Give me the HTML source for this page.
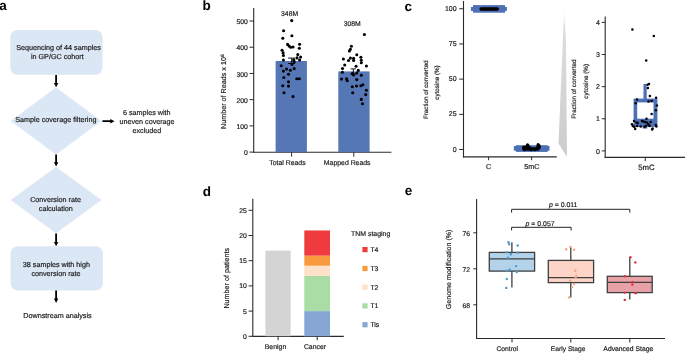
<!DOCTYPE html>
<html><head><meta charset="utf-8"><style>
html,body{margin:0;padding:0;background:#fff;width:685px;height:353px;overflow:hidden}
svg{display:block;will-change:transform}
text{font-family:"Liberation Sans", sans-serif;text-rendering:geometricPrecision}
</style></head><body>
<svg width="685" height="353" viewBox="0 0 685 353" font-family='"Liberation Sans", sans-serif'>
<rect width="685" height="353" fill="#fff"/>
<text x="-0.7" y="10.1" font-size="13.5" text-anchor="start" fill="#000" font-weight="bold" >a</text>
<text x="202.4" y="10.3" font-size="13.5" text-anchor="start" fill="#000" font-weight="bold" >b</text>
<text x="404.6" y="10.5" font-size="13.5" text-anchor="start" fill="#000" font-weight="bold" >c</text>
<text x="202.8" y="195.5" font-size="13.5" text-anchor="start" fill="#000" font-weight="bold" >d</text>
<text x="404.7" y="195.4" font-size="13.5" text-anchor="start" fill="#000" font-weight="bold" >e</text>
<rect x="10.3" y="30" width="92.2" height="44.8" rx="7" fill="#dbe7f5"/>
<text x="58.5" y="50.2" font-size="7.2" text-anchor="middle" fill="#1a1a1a" stroke="#1a1a1a" stroke-width="0.18" >Sequencing of 44 samples</text>
<text x="57.3" y="59.4" font-size="7.2" text-anchor="middle" fill="#1a1a1a" stroke="#1a1a1a" stroke-width="0.18" >in GP/GC cohort</text>
<path d="M55.2,75 L57.0,75 L57.0,83.0 L58.300000000000004,83.0 L56.1,87.3 L53.9,83.0 L55.2,83.0 Z" fill="#000"/>
<polygon points="56,87.6 101.4,121 56,154.4 10.7,121" fill="#dbe7f5"/>
<text x="55.85" y="122.4" font-size="7.2" text-anchor="middle" fill="#1a1a1a" stroke="#1a1a1a" stroke-width="0.18" >Sample coverage filtering</text>
<path d="M102.4,120.3 L110.3,120.3 L110.3,119.0 L114.6,121.2 L110.3,123.4 L110.3,122.10000000000001 L102.4,122.10000000000001 Z" fill="#000"/>
<text x="146.8" y="114.8" font-size="7.2" text-anchor="middle" fill="#1a1a1a" stroke="#1a1a1a" stroke-width="0.18" >6 samples with</text>
<text x="147.05" y="123.9" font-size="7.2" text-anchor="middle" fill="#1a1a1a" stroke="#1a1a1a" stroke-width="0.18" >uneven coverage</text>
<text x="146.9" y="132.6" font-size="7.2" text-anchor="middle" fill="#1a1a1a" stroke="#1a1a1a" stroke-width="0.18" >excluded</text>
<path d="M55.2,154.6 L57.0,154.6 L57.0,162.29999999999998 L58.300000000000004,162.29999999999998 L56.1,166.6 L53.9,162.29999999999998 L55.2,162.29999999999998 Z" fill="#000"/>
<polygon points="56,167 101.4,200 56,233.2 10.7,200" fill="#dbe7f5"/>
<text x="55.55" y="202.3" font-size="7.2" text-anchor="middle" fill="#1a1a1a" stroke="#1a1a1a" stroke-width="0.18" >Conversion rate</text>
<text x="55.8" y="210.8" font-size="7.2" text-anchor="middle" fill="#1a1a1a" stroke="#1a1a1a" stroke-width="0.18" >calculation</text>
<path d="M55.2,233.6 L57.0,233.6 L57.0,241.89999999999998 L58.300000000000004,241.89999999999998 L56.1,246.2 L53.9,241.89999999999998 L55.2,241.89999999999998 Z" fill="#000"/>
<rect x="10.6" y="246.2" width="92.2" height="44.2" rx="7" fill="#dbe7f5"/>
<text x="56.4" y="266.8" font-size="7.2" text-anchor="middle" fill="#1a1a1a" stroke="#1a1a1a" stroke-width="0.18" >38 samples with high</text>
<text x="55.95" y="275.8" font-size="7.2" text-anchor="middle" fill="#1a1a1a" stroke="#1a1a1a" stroke-width="0.18" >conversion rate</text>
<path d="M55.2,290.6 L57.0,290.6 L57.0,298.59999999999997 L58.300000000000004,298.59999999999997 L56.1,302.9 L53.9,298.59999999999997 L55.2,298.59999999999997 Z" fill="#000"/>
<text x="57.5" y="317.7" font-size="7.2" text-anchor="middle" fill="#1a1a1a" stroke="#1a1a1a" stroke-width="0.18" >Downstream analysis</text>
<line x1="253.7" y1="7.9" x2="253.7" y2="152.8" stroke="#2a2a2a" stroke-width="1.1"/>
<line x1="253.14999999999998" y1="152.2" x2="391.4" y2="152.2" stroke="#2a2a2a" stroke-width="1.1"/>
<line x1="249.5" y1="152.1" x2="253.7" y2="152.1" stroke="#2a2a2a" stroke-width="1.0"/>
<text x="247.9" y="155.2" font-size="6.8" text-anchor="end" fill="#1a1a1a" stroke="#1a1a1a" stroke-width="0.18" >0</text>
<line x1="249.5" y1="125.88" x2="253.7" y2="125.88" stroke="#2a2a2a" stroke-width="1.0"/>
<text x="247.9" y="128.98" font-size="6.8" text-anchor="end" fill="#1a1a1a" stroke="#1a1a1a" stroke-width="0.18" >100</text>
<line x1="249.5" y1="99.66" x2="253.7" y2="99.66" stroke="#2a2a2a" stroke-width="1.0"/>
<text x="247.9" y="102.75999999999999" font-size="6.8" text-anchor="end" fill="#1a1a1a" stroke="#1a1a1a" stroke-width="0.18" >200</text>
<line x1="249.5" y1="73.44" x2="253.7" y2="73.44" stroke="#2a2a2a" stroke-width="1.0"/>
<text x="247.9" y="76.53999999999999" font-size="6.8" text-anchor="end" fill="#1a1a1a" stroke="#1a1a1a" stroke-width="0.18" >300</text>
<line x1="249.5" y1="47.22" x2="253.7" y2="47.22" stroke="#2a2a2a" stroke-width="1.0"/>
<text x="247.9" y="50.32" font-size="6.8" text-anchor="end" fill="#1a1a1a" stroke="#1a1a1a" stroke-width="0.18" >400</text>
<line x1="249.5" y1="21.0" x2="253.7" y2="21.0" stroke="#2a2a2a" stroke-width="1.0"/>
<text x="247.9" y="24.1" font-size="6.8" text-anchor="end" fill="#1a1a1a" stroke="#1a1a1a" stroke-width="0.18" >500</text>
<rect x="275.6" y="61" width="31.3" height="91.2" fill="#5577b6" />
<rect x="338.3" y="71.4" width="31.3" height="80.8" fill="#5577b6" />
<line x1="291.6" y1="152.2" x2="291.6" y2="156.6" stroke="#2a2a2a" stroke-width="1.0"/>
<line x1="353.8" y1="152.2" x2="353.8" y2="156.6" stroke="#2a2a2a" stroke-width="1.0"/>
<text x="287.4" y="165.2" font-size="6.9" text-anchor="middle" fill="#1a1a1a" stroke="#1a1a1a" stroke-width="0.18" >Total Reads</text>
<text x="347.2" y="165.2" font-size="6.9" text-anchor="middle" fill="#1a1a1a" stroke="#1a1a1a" stroke-width="0.18" >Mapped Reads</text>
<text x="289.6" y="15.8" font-size="6.8" text-anchor="middle" fill="#1a1a1a" stroke="#1a1a1a" stroke-width="0.18" >348M</text>
<text x="352.2" y="26.3" font-size="6.8" text-anchor="middle" fill="#1a1a1a" stroke="#1a1a1a" stroke-width="0.18" >308M</text>
<line x1="291.6" y1="58.1" x2="291.6" y2="63.5" stroke="#000" stroke-width="0.9"/>
<line x1="288.0" y1="58.1" x2="295.20000000000005" y2="58.1" stroke="#000" stroke-width="0.9"/>
<line x1="288.0" y1="63.5" x2="295.20000000000005" y2="63.5" stroke="#000" stroke-width="0.9"/>
<line x1="353.3" y1="68.9" x2="353.3" y2="74.2" stroke="#000" stroke-width="0.9"/>
<line x1="350.7" y1="68.9" x2="355.90000000000003" y2="68.9" stroke="#000" stroke-width="0.9"/>
<line x1="350.7" y1="74.2" x2="355.90000000000003" y2="74.2" stroke="#000" stroke-width="0.9"/>
<circle cx="291.7" cy="20.6" r="1.55" fill="#000"/>
<circle cx="283.6" cy="30.7" r="1.55" fill="#000"/>
<circle cx="291.9" cy="35.8" r="1.55" fill="#000"/>
<circle cx="282.8" cy="38.3" r="1.55" fill="#000"/>
<circle cx="299.6" cy="44.2" r="1.55" fill="#000"/>
<circle cx="287.6" cy="44.4" r="1.55" fill="#000"/>
<circle cx="289.1" cy="46.1" r="1.55" fill="#000"/>
<circle cx="290.7" cy="47.2" r="1.55" fill="#000"/>
<circle cx="293" cy="47" r="1.55" fill="#000"/>
<circle cx="299.3" cy="48.3" r="1.55" fill="#000"/>
<circle cx="282.1" cy="50.2" r="1.55" fill="#000"/>
<circle cx="283.1" cy="52.9" r="1.55" fill="#000"/>
<circle cx="283.4" cy="55.5" r="1.55" fill="#000"/>
<circle cx="283.4" cy="60" r="1.55" fill="#000"/>
<circle cx="297.8" cy="54.6" r="1.55" fill="#000"/>
<circle cx="300.6" cy="57.1" r="1.55" fill="#000"/>
<circle cx="299.6" cy="60" r="1.55" fill="#000"/>
<circle cx="297" cy="57.9" r="1.55" fill="#000"/>
<circle cx="293.7" cy="59.9" r="1.55" fill="#000"/>
<circle cx="294.2" cy="61.6" r="1.55" fill="#000"/>
<circle cx="292" cy="64.4" r="1.55" fill="#000"/>
<circle cx="281.2" cy="65.7" r="1.55" fill="#000"/>
<circle cx="286.6" cy="69" r="1.55" fill="#000"/>
<circle cx="294.2" cy="68.6" r="1.55" fill="#000"/>
<circle cx="283.4" cy="71.1" r="1.55" fill="#000"/>
<circle cx="290.4" cy="70.3" r="1.55" fill="#000"/>
<circle cx="288.5" cy="74.3" r="1.55" fill="#000"/>
<circle cx="283.8" cy="77.5" r="1.55" fill="#000"/>
<circle cx="296.8" cy="78.8" r="1.55" fill="#000"/>
<circle cx="299.3" cy="78.8" r="1.55" fill="#000"/>
<circle cx="288.5" cy="81.7" r="1.55" fill="#000"/>
<circle cx="282.8" cy="85.8" r="1.55" fill="#000"/>
<circle cx="288.5" cy="86.1" r="1.55" fill="#000"/>
<circle cx="284" cy="92.8" r="1.55" fill="#000"/>
<circle cx="293" cy="96.6" r="1.55" fill="#000"/>
<circle cx="364.4" cy="34.5" r="1.55" fill="#000"/>
<circle cx="351.4" cy="46.3" r="1.55" fill="#000"/>
<circle cx="350.4" cy="49.2" r="1.55" fill="#000"/>
<circle cx="349.4" cy="51" r="1.55" fill="#000"/>
<circle cx="356.8" cy="54.8" r="1.55" fill="#000"/>
<circle cx="360.9" cy="57.3" r="1.55" fill="#000"/>
<circle cx="343.4" cy="59" r="1.55" fill="#000"/>
<circle cx="350.4" cy="58.1" r="1.55" fill="#000"/>
<circle cx="353.6" cy="58.4" r="1.55" fill="#000"/>
<circle cx="348.5" cy="60.5" r="1.55" fill="#000"/>
<circle cx="353.6" cy="60.5" r="1.55" fill="#000"/>
<circle cx="361.3" cy="60.2" r="1.55" fill="#000"/>
<circle cx="361.3" cy="62.8" r="1.55" fill="#000"/>
<circle cx="366.4" cy="66" r="1.55" fill="#000"/>
<circle cx="344.7" cy="65" r="1.55" fill="#000"/>
<circle cx="356.1" cy="66.3" r="1.55" fill="#000"/>
<circle cx="342.5" cy="68.5" r="1.55" fill="#000"/>
<circle cx="358.3" cy="70.4" r="1.55" fill="#000"/>
<circle cx="342.4" cy="72.3" r="1.55" fill="#000"/>
<circle cx="352.3" cy="73.6" r="1.55" fill="#000"/>
<circle cx="353.6" cy="74.9" r="1.55" fill="#000"/>
<circle cx="356.8" cy="73" r="1.55" fill="#000"/>
<circle cx="361.3" cy="75.3" r="1.55" fill="#000"/>
<circle cx="341.5" cy="79.1" r="1.55" fill="#000"/>
<circle cx="346.6" cy="78.7" r="1.55" fill="#000"/>
<circle cx="347.2" cy="80.6" r="1.55" fill="#000"/>
<circle cx="356.8" cy="79.6" r="1.55" fill="#000"/>
<circle cx="352.3" cy="86.7" r="1.55" fill="#000"/>
<circle cx="356.5" cy="86" r="1.55" fill="#000"/>
<circle cx="360.9" cy="85.7" r="1.55" fill="#000"/>
<circle cx="362.9" cy="84.7" r="1.55" fill="#000"/>
<circle cx="366.4" cy="90.2" r="1.55" fill="#000"/>
<circle cx="352.7" cy="92.7" r="1.55" fill="#000"/>
<circle cx="365.7" cy="94.6" r="1.55" fill="#000"/>
<circle cx="361.3" cy="99.4" r="1.55" fill="#000"/>
<circle cx="362.5" cy="103.8" r="1.55" fill="#000"/>
<line x1="463.5" y1="1" x2="463.5" y2="157.5" stroke="#2a2a2a" stroke-width="1.1"/>
<line x1="462.95" y1="156.9" x2="556.8" y2="156.9" stroke="#2a2a2a" stroke-width="1.1"/>
<line x1="459.2" y1="149.5" x2="463.5" y2="149.5" stroke="#2a2a2a" stroke-width="1.0"/>
<text x="456.6" y="151.5" font-size="7.0" text-anchor="end" fill="#1a1a1a" stroke="#1a1a1a" stroke-width="0.18" >0</text>
<line x1="459.2" y1="114.3125" x2="463.5" y2="114.3125" stroke="#2a2a2a" stroke-width="1.0"/>
<text x="456.6" y="116.3125" font-size="7.0" text-anchor="end" fill="#1a1a1a" stroke="#1a1a1a" stroke-width="0.18" >25</text>
<line x1="459.2" y1="79.125" x2="463.5" y2="79.125" stroke="#2a2a2a" stroke-width="1.0"/>
<text x="456.6" y="81.125" font-size="7.0" text-anchor="end" fill="#1a1a1a" stroke="#1a1a1a" stroke-width="0.18" >50</text>
<line x1="459.2" y1="43.9375" x2="463.5" y2="43.9375" stroke="#2a2a2a" stroke-width="1.0"/>
<text x="456.6" y="45.9375" font-size="7.0" text-anchor="end" fill="#1a1a1a" stroke="#1a1a1a" stroke-width="0.18" >75</text>
<line x1="459.2" y1="8.75" x2="463.5" y2="8.75" stroke="#2a2a2a" stroke-width="1.0"/>
<text x="456.6" y="10.75" font-size="7.0" text-anchor="end" fill="#1a1a1a" stroke="#1a1a1a" stroke-width="0.18" >100</text>
<line x1="488.6" y1="156.9" x2="488.6" y2="160.2" stroke="#2a2a2a" stroke-width="1.0"/>
<line x1="531.6" y1="156.9" x2="531.6" y2="160.2" stroke="#2a2a2a" stroke-width="1.0"/>
<text x="488.6" y="169.1" font-size="7.2" text-anchor="middle" fill="#1a1a1a" stroke="#1a1a1a" stroke-width="0.18" >C</text>
<text x="531.9" y="169.1" font-size="7.2" text-anchor="middle" fill="#1a1a1a" stroke="#1a1a1a" stroke-width="0.18" >5mC</text>
<rect x="473" y="5.1" width="32.1" height="7.6" fill="#4d6fb6" />
<rect x="470.9" y="7" width="36" height="3.9" fill="#4d6fb6" />
<rect x="479.4" y="7.2" width="19.6" height="3.5" rx="1.75" fill="#000"/>
<rect x="516" y="145.2" width="31.7" height="6.7" fill="#4d6fb6" />
<rect x="513.8" y="146" width="35.7" height="4.7" fill="#4d6fb6" />
<circle cx="523.8" cy="148.9" r="1.6" fill="#000"/>
<circle cx="525.0" cy="148.9" r="1.6" fill="#000"/>
<circle cx="526.2" cy="148.9" r="1.6" fill="#000"/>
<circle cx="527.4" cy="148.9" r="1.6" fill="#000"/>
<circle cx="528.6" cy="148.9" r="1.6" fill="#000"/>
<circle cx="529.8" cy="148.9" r="1.6" fill="#000"/>
<circle cx="531.0" cy="148.9" r="1.6" fill="#000"/>
<circle cx="532.2" cy="148.9" r="1.6" fill="#000"/>
<circle cx="533.4" cy="148.9" r="1.6" fill="#000"/>
<circle cx="534.6" cy="148.9" r="1.6" fill="#000"/>
<circle cx="535.8" cy="148.9" r="1.6" fill="#000"/>
<circle cx="537.0" cy="148.9" r="1.6" fill="#000"/>
<circle cx="538.2" cy="148.9" r="1.6" fill="#000"/>
<circle cx="523.6" cy="147.4" r="1.6" fill="#000"/>
<circle cx="525" cy="147.1" r="1.6" fill="#000"/>
<circle cx="526.5" cy="146.9" r="1.6" fill="#000"/>
<circle cx="528" cy="147" r="1.6" fill="#000"/>
<circle cx="529.5" cy="147.6" r="1.6" fill="#000"/>
<circle cx="527.5" cy="144.8" r="1.6" fill="#000"/>
<circle cx="527.9" cy="145.6" r="1.6" fill="#000"/>
<circle cx="538.1" cy="144.7" r="1.6" fill="#000"/>
<circle cx="539.2" cy="145.9" r="1.6" fill="#000"/>
<circle cx="539.3" cy="147.3" r="1.6" fill="#000"/>
<circle cx="537.8" cy="146.6" r="1.6" fill="#000"/>
<circle cx="524.5" cy="149.6" r="1.6" fill="#000"/>
<circle cx="531" cy="149.7" r="1.6" fill="#000"/>
<circle cx="535" cy="149.6" r="1.6" fill="#000"/>
<text x="427.8" y="89.75" font-size="6.25" text-anchor="middle" fill="#1a1a1a" stroke="#1a1a1a" stroke-width="0.18" transform="rotate(-90 427.8 89.75)" >Fraction of converted</text>
<text x="439.1" y="82.5" font-size="6.25" text-anchor="middle" fill="#1a1a1a" stroke="#1a1a1a" stroke-width="0.18" transform="rotate(-90 439.1 82.5)" >cytosine (%)</text>
<defs><linearGradient id="wg" gradientUnits="userSpaceOnUse" x1="0" y1="10.8" x2="0" y2="157"><stop offset="0" stop-color="#f4f4f4"/><stop offset="0.12" stop-color="#dddddd"/><stop offset="1" stop-color="#cdcdcd"/></linearGradient></defs>
<polygon points="564.1,10.8 566,40 566.5,100 567,157 558.5,143.4" fill="url(#wg)"/>
<line x1="605.2" y1="16.6" x2="605.2" y2="158.1" stroke="#2a2a2a" stroke-width="1.1"/>
<line x1="604.6500000000001" y1="157.4" x2="685" y2="157.4" stroke="#2a2a2a" stroke-width="1.2"/>
<line x1="601.8" y1="150.9" x2="605.2" y2="150.9" stroke="#2a2a2a" stroke-width="1.0"/>
<text x="600.0" y="153.5" font-size="7.0" text-anchor="end" fill="#1a1a1a" stroke="#1a1a1a" stroke-width="0.18" >0</text>
<line x1="601.8" y1="118.77000000000001" x2="605.2" y2="118.77000000000001" stroke="#2a2a2a" stroke-width="1.0"/>
<text x="600.0" y="121.37" font-size="7.0" text-anchor="end" fill="#1a1a1a" stroke="#1a1a1a" stroke-width="0.18" >1</text>
<line x1="601.8" y1="86.64" x2="605.2" y2="86.64" stroke="#2a2a2a" stroke-width="1.0"/>
<text x="600.0" y="89.24" font-size="7.0" text-anchor="end" fill="#1a1a1a" stroke="#1a1a1a" stroke-width="0.18" >2</text>
<line x1="601.8" y1="54.50999999999999" x2="605.2" y2="54.50999999999999" stroke="#2a2a2a" stroke-width="1.0"/>
<text x="600.0" y="57.10999999999999" font-size="7.0" text-anchor="end" fill="#1a1a1a" stroke="#1a1a1a" stroke-width="0.18" >3</text>
<line x1="601.8" y1="22.379999999999995" x2="605.2" y2="22.379999999999995" stroke="#2a2a2a" stroke-width="1.0"/>
<text x="600.0" y="24.979999999999997" font-size="7.0" text-anchor="end" fill="#1a1a1a" stroke="#1a1a1a" stroke-width="0.18" >4</text>
<line x1="645.3" y1="157.4" x2="645.3" y2="161" stroke="#2a2a2a" stroke-width="1.0"/>
<text x="646.5" y="169.5" font-size="7.8" text-anchor="middle" fill="#1a1a1a" stroke="#1a1a1a" stroke-width="0.18" >5mC</text>
<text x="575.9" y="89.15" font-size="6.3" text-anchor="middle" fill="#1a1a1a" stroke="#1a1a1a" stroke-width="0.18" transform="rotate(-90 575.9 89.15)" >Fraction of converted</text>
<text x="588.1" y="81.3" font-size="6.3" text-anchor="middle" fill="#1a1a1a" stroke="#1a1a1a" stroke-width="0.18" transform="rotate(-90 588.1 81.3)" >cytosine (%)</text>
<rect x="643.5" y="84" width="3.2" height="16" fill="#4d6fb6" />
<rect x="633.6" y="98.6" width="23.8" height="28.3" fill="#4d6fb6" />
<rect x="642.6" y="126" width="4.6" height="2.6" fill="#4d6fb6" />
<rect x="637.2" y="102.4" width="16.3" height="16.3" fill="#fff" />
<circle cx="632.4" cy="29.6" r="1.25" fill="#000"/>
<circle cx="653.8" cy="36" r="1.25" fill="#000"/>
<circle cx="646.2" cy="60.4" r="1.25" fill="#000"/>
<circle cx="647.6" cy="84.7" r="1.25" fill="#000"/>
<circle cx="649" cy="84" r="1.25" fill="#000"/>
<circle cx="647.9" cy="87.9" r="1.25" fill="#000"/>
<circle cx="649.9" cy="95.9" r="1.25" fill="#000"/>
<circle cx="656.1" cy="97.7" r="1.25" fill="#000"/>
<circle cx="637" cy="99.5" r="1.25" fill="#000"/>
<circle cx="651.6" cy="100.9" r="1.25" fill="#000"/>
<circle cx="648.5" cy="101.5" r="1.25" fill="#000"/>
<circle cx="635.7" cy="103.3" r="1.25" fill="#000"/>
<circle cx="656.9" cy="105.5" r="1.25" fill="#000"/>
<circle cx="655.9" cy="110.3" r="1.25" fill="#000"/>
<circle cx="651.6" cy="113.9" r="1.25" fill="#000"/>
<circle cx="646.5" cy="118.7" r="1.25" fill="#000"/>
<circle cx="634" cy="120.9" r="1.25" fill="#000"/>
<circle cx="642" cy="121.1" r="1.25" fill="#000"/>
<circle cx="643.4" cy="121.6" r="1.25" fill="#000"/>
<circle cx="645.1" cy="122.1" r="1.25" fill="#000"/>
<circle cx="646.8" cy="122.6" r="1.25" fill="#000"/>
<circle cx="650.6" cy="121.9" r="1.25" fill="#000"/>
<circle cx="636.5" cy="122.6" r="1.25" fill="#000"/>
<circle cx="637.6" cy="123" r="1.25" fill="#000"/>
<circle cx="632" cy="124.2" r="1.25" fill="#000"/>
<circle cx="632.8" cy="125.9" r="1.25" fill="#000"/>
<circle cx="634.3" cy="126.9" r="1.25" fill="#000"/>
<circle cx="635.2" cy="129" r="1.25" fill="#000"/>
<circle cx="637.2" cy="125.9" r="1.25" fill="#000"/>
<circle cx="640.7" cy="126.4" r="1.25" fill="#000"/>
<circle cx="644.6" cy="126.7" r="1.25" fill="#000"/>
<circle cx="645.8" cy="125.9" r="1.25" fill="#000"/>
<circle cx="648.7" cy="125" r="1.25" fill="#000"/>
<circle cx="649.7" cy="125.9" r="1.25" fill="#000"/>
<circle cx="655.9" cy="125" r="1.25" fill="#000"/>
<circle cx="656.4" cy="126.4" r="1.25" fill="#000"/>
<circle cx="652.6" cy="128.6" r="1.25" fill="#000"/>
<circle cx="652.1" cy="129.6" r="1.25" fill="#000"/>
<circle cx="648.2" cy="124" r="1.25" fill="#000"/>
<line x1="252.8" y1="198.8" x2="252.8" y2="336.8" stroke="#2a2a2a" stroke-width="1.1"/>
<line x1="252.25" y1="336.3" x2="343.8" y2="336.3" stroke="#2a2a2a" stroke-width="1.25"/>
<line x1="248.6" y1="336.3" x2="252.8" y2="336.3" stroke="#2a2a2a" stroke-width="1.0"/>
<text x="246.7" y="338.75" font-size="6.8" text-anchor="end" fill="#1a1a1a" stroke="#1a1a1a" stroke-width="0.18" >0</text>
<line x1="248.6" y1="311.1" x2="252.8" y2="311.1" stroke="#2a2a2a" stroke-width="1.0"/>
<text x="246.7" y="313.55" font-size="6.8" text-anchor="end" fill="#1a1a1a" stroke="#1a1a1a" stroke-width="0.18" >5</text>
<line x1="248.6" y1="285.90000000000003" x2="252.8" y2="285.90000000000003" stroke="#2a2a2a" stroke-width="1.0"/>
<text x="246.7" y="288.35" font-size="6.8" text-anchor="end" fill="#1a1a1a" stroke="#1a1a1a" stroke-width="0.18" >10</text>
<line x1="248.6" y1="260.70000000000005" x2="252.8" y2="260.70000000000005" stroke="#2a2a2a" stroke-width="1.0"/>
<text x="246.7" y="263.15000000000003" font-size="6.8" text-anchor="end" fill="#1a1a1a" stroke="#1a1a1a" stroke-width="0.18" >15</text>
<line x1="248.6" y1="235.5" x2="252.8" y2="235.5" stroke="#2a2a2a" stroke-width="1.0"/>
<text x="246.7" y="237.95" font-size="6.8" text-anchor="end" fill="#1a1a1a" stroke="#1a1a1a" stroke-width="0.18" >20</text>
<line x1="248.6" y1="210.3" x2="252.8" y2="210.3" stroke="#2a2a2a" stroke-width="1.0"/>
<text x="246.7" y="212.75" font-size="6.8" text-anchor="end" fill="#1a1a1a" stroke="#1a1a1a" stroke-width="0.18" >25</text>
<rect x="265.4" y="250.62" width="25.2" height="85.57999999999998" fill="#d4d4d4" />
<rect x="304.3" y="311.1" width="25.7" height="25.19999999999999" fill="#88a6d3" />
<rect x="304.3" y="275.82" width="25.7" height="35.28000000000003" fill="#aadca6" />
<rect x="304.3" y="265.74" width="25.7" height="10.079999999999984" fill="#fde1c9" />
<rect x="304.3" y="255.66000000000003" width="25.7" height="10.079999999999984" fill="#f89a3e" />
<rect x="304.3" y="230.46" width="25.7" height="25.200000000000017" fill="#ef3b3e" />
<line x1="278.1" y1="336.2" x2="278.1" y2="340.2" stroke="#2a2a2a" stroke-width="1.0"/>
<line x1="317.2" y1="336.2" x2="317.2" y2="340.2" stroke="#2a2a2a" stroke-width="1.0"/>
<text x="275.5" y="348.6" font-size="6.9" text-anchor="middle" fill="#1a1a1a" stroke="#1a1a1a" stroke-width="0.18" >Benign</text>
<text x="315" y="348.6" font-size="6.9" text-anchor="middle" fill="#1a1a1a" stroke="#1a1a1a" stroke-width="0.18" >Cancer</text>
<text x="229" y="278.2" font-size="7.2" text-anchor="middle" fill="#1a1a1a" stroke="#1a1a1a" stroke-width="0.18" transform="rotate(-90 229 278.2)" >Number of patients</text>
<text x="351" y="236" font-size="6.95" text-anchor="start" fill="#1a1a1a" stroke="#1a1a1a" stroke-width="0.18" >TNM staging</text>
<rect x="362.4" y="247.0" width="5.2" height="5.2" fill="#ef3b3e" />
<text x="370.4" y="252.1" font-size="6.9" text-anchor="start" fill="#1a1a1a" stroke="#1a1a1a" stroke-width="0.18" >T4</text>
<rect x="362.4" y="265.9" width="5.2" height="5.2" fill="#f89a3e" />
<text x="370.4" y="271.0" font-size="6.9" text-anchor="start" fill="#1a1a1a" stroke="#1a1a1a" stroke-width="0.18" >T3</text>
<rect x="362.4" y="284.59999999999997" width="5.2" height="5.2" fill="#fde1c9" />
<text x="370.4" y="289.7" font-size="6.9" text-anchor="start" fill="#1a1a1a" stroke="#1a1a1a" stroke-width="0.18" >T2</text>
<rect x="362.4" y="303.29999999999995" width="5.2" height="5.2" fill="#aadca6" />
<text x="370.4" y="308.4" font-size="6.9" text-anchor="start" fill="#1a1a1a" stroke="#1a1a1a" stroke-width="0.18" >T1</text>
<rect x="362.4" y="322.09999999999997" width="5.2" height="5.2" fill="#88a6d3" />
<text x="370.4" y="327.2" font-size="6.9" text-anchor="start" fill="#1a1a1a" stroke="#1a1a1a" stroke-width="0.18" >Tis</text>
<text x="225.6" y="91.7" font-size="7.2" text-anchor="middle" fill="#1a1a1a" stroke="#1a1a1a" stroke-width="0.18" transform="rotate(-90 225.6 91.7)" >Number of Reads x 10<tspan font-size="4.8" dy="-1.9">6</tspan></text>
<line x1="476.6" y1="199.1" x2="476.6" y2="339.1" stroke="#2a2a2a" stroke-width="1.1"/>
<line x1="476.05" y1="338.5" x2="665" y2="338.5" stroke="#2a2a2a" stroke-width="1.1"/>
<line x1="473.3" y1="304.8" x2="476.6" y2="304.8" stroke="#2a2a2a" stroke-width="1.0"/>
<text x="470.1" y="307.6" font-size="6.8" text-anchor="end" fill="#1a1a1a" stroke="#1a1a1a" stroke-width="0.18" >68</text>
<line x1="473.3" y1="268.8" x2="476.6" y2="268.8" stroke="#2a2a2a" stroke-width="1.0"/>
<text x="470.1" y="271.6" font-size="6.8" text-anchor="end" fill="#1a1a1a" stroke="#1a1a1a" stroke-width="0.18" >72</text>
<line x1="473.3" y1="232.8" x2="476.6" y2="232.8" stroke="#2a2a2a" stroke-width="1.0"/>
<text x="470.1" y="235.60000000000002" font-size="6.8" text-anchor="end" fill="#1a1a1a" stroke="#1a1a1a" stroke-width="0.18" >76</text>
<line x1="512" y1="338.5" x2="512" y2="342.5" stroke="#2a2a2a" stroke-width="1.0"/>
<line x1="570.8" y1="338.5" x2="570.8" y2="342.5" stroke="#2a2a2a" stroke-width="1.0"/>
<line x1="629.8" y1="338.5" x2="629.8" y2="342.5" stroke="#2a2a2a" stroke-width="1.0"/>
<text x="507.3" y="351.4" font-size="6.7" text-anchor="middle" fill="#1a1a1a" stroke="#1a1a1a" stroke-width="0.18" >Control</text>
<text x="568.1" y="351.4" font-size="6.7" text-anchor="middle" fill="#1a1a1a" stroke="#1a1a1a" stroke-width="0.18" >Early Stage</text>
<text x="628.3" y="351.3" font-size="6.8" text-anchor="middle" fill="#1a1a1a" stroke="#1a1a1a" stroke-width="0.18" >Advanced Stage</text>
<text x="451" y="269.4" font-size="7.05" text-anchor="middle" fill="#1a1a1a" stroke="#1a1a1a" stroke-width="0.18" transform="rotate(-90 451 269.4)" >Genome modification (%)</text>
<line x1="511.9" y1="242.3" x2="511.9" y2="252.4" stroke="#3f3f3f" stroke-width="1.3"/>
<line x1="511.9" y1="271.1" x2="511.9" y2="287.5" stroke="#3f3f3f" stroke-width="1.3"/>
<rect x="489.3" y="252.4" width="45.30000000000001" height="18.700000000000017" fill="#b3d3ea" stroke="#3f3f3f" stroke-width="1.3"/>
<line x1="489.3" y1="258.8" x2="534.6" y2="258.8" stroke="#3f3f3f" stroke-width="1.3"/>
<circle cx="508.4" cy="242.3" r="1.22" fill="#4d9bd3"/>
<circle cx="509.2" cy="244.3" r="1.22" fill="#4d9bd3"/>
<circle cx="517.7" cy="245.5" r="1.22" fill="#4d9bd3"/>
<circle cx="506.8" cy="252.2" r="1.22" fill="#4d9bd3"/>
<circle cx="517.7" cy="252.8" r="1.22" fill="#4d9bd3"/>
<circle cx="510.8" cy="254.2" r="1.22" fill="#4d9bd3"/>
<circle cx="507.8" cy="257.8" r="1.22" fill="#4d9bd3"/>
<circle cx="516.1" cy="266.1" r="1.22" fill="#4d9bd3"/>
<circle cx="506.8" cy="270.7" r="1.22" fill="#4d9bd3"/>
<circle cx="509.8" cy="269.7" r="1.22" fill="#4d9bd3"/>
<circle cx="516.7" cy="272" r="1.22" fill="#4d9bd3"/>
<circle cx="506.8" cy="279" r="1.22" fill="#4d9bd3"/>
<circle cx="506.2" cy="287.9" r="1.22" fill="#4d9bd3"/>
<line x1="570.8" y1="247.5" x2="570.8" y2="260.4" stroke="#3f3f3f" stroke-width="1.3"/>
<line x1="570.8" y1="282.6" x2="570.8" y2="297.5" stroke="#3f3f3f" stroke-width="1.3"/>
<rect x="548.3" y="260.4" width="45.30000000000007" height="22.200000000000045" fill="#fdd4c7" stroke="#3f3f3f" stroke-width="1.3"/>
<line x1="548.3" y1="277.6" x2="593.6" y2="277.6" stroke="#3f3f3f" stroke-width="1.3"/>
<circle cx="570.4" cy="246.9" r="1.22" fill="#f4a582"/>
<circle cx="566.2" cy="249.2" r="1.22" fill="#f4a582"/>
<circle cx="574.1" cy="249.8" r="1.22" fill="#f4a582"/>
<circle cx="575.3" cy="270.7" r="1.22" fill="#f4a582"/>
<circle cx="576.3" cy="276" r="1.22" fill="#f4a582"/>
<circle cx="575.7" cy="277.6" r="1.22" fill="#f4a582"/>
<circle cx="570.2" cy="280.6" r="1.22" fill="#f4a582"/>
<circle cx="574.1" cy="284" r="1.22" fill="#f4a582"/>
<circle cx="572.1" cy="287.1" r="1.22" fill="#f4a582"/>
<circle cx="569.2" cy="297.5" r="1.22" fill="#f4a582"/>
<line x1="629.8" y1="257.3" x2="629.8" y2="276.3" stroke="#3f3f3f" stroke-width="1.3"/>
<line x1="629.8" y1="292.6" x2="629.8" y2="299.5" stroke="#3f3f3f" stroke-width="1.3"/>
<rect x="607.3" y="276.3" width="44.90000000000009" height="16.30000000000001" fill="#e8a2a7" stroke="#3f3f3f" stroke-width="1.3"/>
<line x1="607.3" y1="282.3" x2="652.2" y2="282.3" stroke="#3f3f3f" stroke-width="1.3"/>
<circle cx="630.4" cy="257.3" r="1.22" fill="#dd2f3a"/>
<circle cx="635.3" cy="262.4" r="1.22" fill="#dd2f3a"/>
<circle cx="624.8" cy="276.3" r="1.22" fill="#dd2f3a"/>
<circle cx="632.7" cy="282.3" r="1.22" fill="#dd2f3a"/>
<circle cx="632.3" cy="284.6" r="1.22" fill="#dd2f3a"/>
<circle cx="624.8" cy="292.6" r="1.22" fill="#dd2f3a"/>
<circle cx="635.7" cy="293.2" r="1.22" fill="#dd2f3a"/>
<circle cx="624.8" cy="299.9" r="1.22" fill="#dd2f3a"/>
<path d="M511.6,212.6 L511.6,209.3 L629.8,209.3 L629.8,212.6" fill="none" stroke="#222" stroke-width="1"/>
<path d="M511.6,230.4 L511.6,227.3 L571.1,227.3 L571.1,230.4" fill="none" stroke="#222" stroke-width="1"/>
<text x="563.2" y="207.2" font-size="6.9" text-anchor="middle" fill="#1a1a1a" stroke="#1a1a1a" stroke-width="0.18" ><tspan font-style="italic">p</tspan> = 0.011</text>
<text x="540.1" y="225.6" font-size="6.9" text-anchor="middle" fill="#1a1a1a" stroke="#1a1a1a" stroke-width="0.18" ><tspan font-style="italic">p</tspan> = 0.057</text>
</svg>
</body></html>
